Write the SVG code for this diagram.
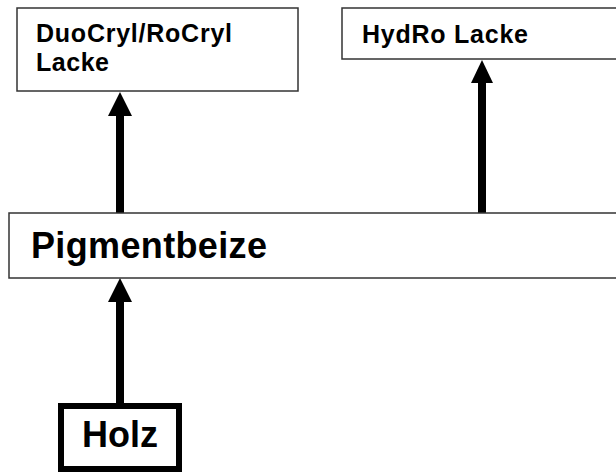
<svg xmlns="http://www.w3.org/2000/svg" width="616" height="472" viewBox="0 0 616 472">
<style>
.box{fill:#fff;stroke:#333;stroke-width:1.5}
.thick{fill:#fff;stroke:#000;stroke-width:6}
.t{font-family:"Liberation Sans",Arial,sans-serif;font-weight:bold;fill:#000}
.s{font-size:25px}
.l{font-size:36px}
.c{stroke:#000;stroke-width:8;fill:none}
.h{fill:#000}
</style>
<rect width="616" height="472" fill="#fff"/>
<g id="connectors">
<line class="c" x1="120" y1="213" x2="120" y2="112"/>
<polygon class="h" points="120,92 108,116 132,116"/>
<line class="c" x1="482" y1="213" x2="482" y2="80"/>
<polygon class="h" points="482,60 471,83 493,83"/>
<line class="c" x1="120" y1="403" x2="120" y2="298"/>
<polygon class="h" points="120,278 108,302 132,302"/>
</g>
<g id="duocryl">
<rect class="box" x="17" y="8" width="281" height="83"/>
<text class="t s" x="36" y="42" textLength="196">DuoCryl/RoCryl</text>
<text class="t s" x="36" y="71" textLength="73">Lacke</text>
</g>
<g id="hydro">
<rect class="box" x="342" y="8" width="290" height="51"/>
<text class="t s" x="362" y="43" textLength="166">HydRo Lacke</text>
</g>
<g id="pigmentbeize">
<rect class="box" x="9" y="213" width="620" height="65"/>
<text class="t l" x="31" y="258" textLength="236">Pigmentbeize</text>
</g>
<g id="holz">
<rect class="thick" x="61" y="406" width="118" height="63"/>
<text class="t l" x="82" y="447">Holz</text>
</g>
</svg>
